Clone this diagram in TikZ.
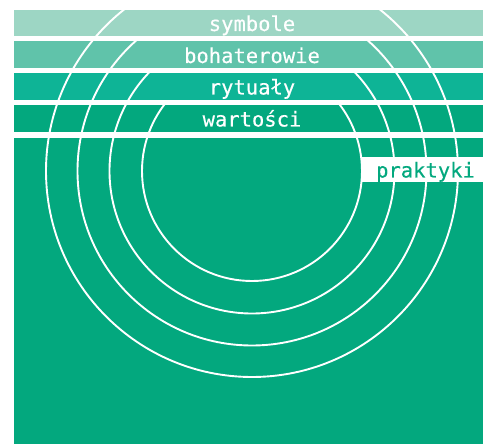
\documentclass[tikz,border=0pt]{standalone}
\usepackage{fontspec}
\newfontfamily\lblfont[FakeBold=0.35]{DejaVu Sans Mono}
\definecolor{bandA}{HTML}{9DD6C4}
\definecolor{bandB}{HTML}{60C3AA}
\definecolor{bandC}{HTML}{0EB496}
\definecolor{bandD}{HTML}{03A87E}
\begin{document}
\begin{tikzpicture}[x=1pt,y=-1pt,
  lbl/.style={font=\fontsize{20.5}{20.5}\lblfont, inner sep=0pt, anchor=base, text=white},
  ring/.style={draw=white, line width=1.9pt}]
\useasboundingbox (0,0) rectangle (483,444);
% bands
\fill[bandA] (14,10) rectangle (483,36);
\fill[bandB] (14,41.5) rectangle (483,68);
\fill[bandC] (14,73.5) rectangle (483,100);
\fill[bandD] (14,105.5) rectangle (483,132.5);
\fill[bandD] (14,138) rectangle (483,444);
% rings, each visible from its own band downwards
\coordinate (c) at (252,171);
\begin{scope}\clip (0,10) rectangle (483,444);
  \draw[ring] (c) circle[radius=206];\end{scope}
\begin{scope}\clip (0,39) rectangle (483,444);
  \draw[ring] (c) circle[radius=174.5];\end{scope}
\begin{scope}\clip (0,71) rectangle (483,444);
  \draw[ring] (c) circle[radius=142.5];\end{scope}
\begin{scope}\clip (0,103) rectangle (483,444);
  \draw[ring] (c) circle[radius=110];\end{scope}
% labels
\node[lbl] (symbole) at (252,31) {symbole};
\node[lbl] (bohaterowie) at (252,63) {bohaterowie};
\node[lbl] (rytualy) at (252,94.5) {rytuały};
\node[lbl] (wartosci) at (252,126.5) {wartości};
\fill[white] (362,157) rectangle (483,182);
\node[lbl, text=bandD] (praktyki) at (425.5,177.5) {praktyki};
\end{tikzpicture}
\end{document}
